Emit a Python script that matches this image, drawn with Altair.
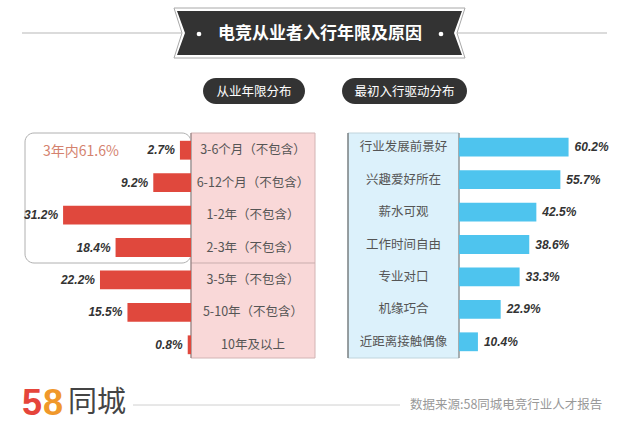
import altair as alt
import pandas as pd

# ---- data ----
years_cats = ["3-6个月（不包含）", "6-12个月（不包含）", "1-2年（不包含）", "2-3年（不包含）",
              "3-5年（不包含）", "5-10年（不包含）", "10年及以上"]
years_vals = [2.7, 9.2, 31.2, 18.4, 22.2, 15.5, 0.8]
reason_cats = ["行业发展前景好", "兴趣爱好所在", "薪水可观", "工作时间自由",
               "专业对口", "机缘巧合", "近距离接触偶像"]
reason_vals = [60.2, 55.7, 42.5, 38.6, 33.3, 22.9, 10.4]

title_text = "电竞从业者入行年限及原因"
left_subtitle = "从业年限分布"
right_subtitle = "最初入行驱动分布"
bracket_text = "3年内61.6%"
source_text = "数据来源:58同城电竞行业人才报告"
logo_digits = ["5", "8"]
logo_text = "同城"

FONT = "Noto Sans CJK SC"
NUMFONT = "Liberation Sans"

left_df = pd.DataFrame({"cat": years_cats, "val": years_vals,
                        "label": [f"{v}%" for v in years_vals]})
right_df = pd.DataFrame({"cat": reason_cats, "val": reason_vals,
                         "label": [f"{v}%" for v in reason_vals]})
one = pd.DataFrame({"k": [0]})


def rect(x1, x2, y1, y2, **kw):
    return alt.Chart(one).mark_rect(**kw).encode(
        x=alt.value(x1), x2=alt.value(x2), y=alt.value(y1), y2=alt.value(y2))


def rule(x1, x2, y1, y2, **kw):
    return alt.Chart(one).mark_rule(**kw).encode(
        x=alt.value(x1), x2=alt.value(x2), y=alt.value(y1), y2=alt.value(y2))


def text(x, y, s, **kw):
    kw.setdefault("font", FONT)
    return alt.Chart(one).mark_text(text=s, **kw).encode(x=alt.value(x), y=alt.value(y))


def banner_path(hh, notch):
    a = 1 - notch
    return (f"M-1,{-hh} L1,{-hh} L{a},0 L1,{hh} L-1,{hh} L{-a},0 Z")


# ---- decorations ----
decor = [
    rule(22, 607, 33, 33, color="#cfcfcf", strokeWidth=1.5),
    alt.Chart(one).mark_point(shape=banner_path(25 / 145.5, 8 / 145.5), size=291 ** 2,
                              filled=False, stroke="#a8a8a8", strokeWidth=1, fill="white",
                              fillOpacity=1, opacity=1).encode(x=alt.value(319.5), y=alt.value(33)),
    alt.Chart(one).mark_point(shape=banner_path(22 / 142.5, 8 / 142.5), size=285 ** 2,
                              filled=True, color="#333333", opacity=1).encode(
        x=alt.value(319.5), y=alt.value(33)),
    alt.Chart(one).mark_point(filled=True, color="white", size=22, opacity=1).encode(
        x=alt.value(199), y=alt.value(34)),
    alt.Chart(one).mark_point(filled=True, color="white", size=22, opacity=1).encode(
        x=alt.value(441), y=alt.value(34)),
    text(320, 34, title_text, fontSize=17, fontWeight="bold", color="white", baseline="middle"),
    # pills
    rect(203, 305, 78, 104, color="#333333", cornerRadius=13),
    text(254, 91.5, left_subtitle, fontSize=12.5, color="white", baseline="middle"),
    rect(342, 467, 78, 104, color="#333333", cornerRadius=13),
    text(404.5, 91.5, right_subtitle, fontSize=12.5, color="white", baseline="middle"),
    # panels
    rect(191, 315, 133, 358, color="#f9d8d8", stroke="#d2b4b4", strokeWidth=1),
    rule(191, 315, 263, 263, color="#c9adad", strokeWidth=1),
    rule(191, 191, 133, 358, color="#8a7a7a", strokeWidth=1),
    rect(348, 459, 133, 358, color="#dcf1fb", stroke="#c0d4dc", strokeWidth=1),
    rule(348, 348, 133, 358, color="#555555", strokeWidth=1),
    rule(459, 459, 133, 358, color="#777777", strokeWidth=1),
    # bracket
    rect(25, 191, 133, 263, fillOpacity=0, stroke="#b0b0b0", strokeWidth=1, cornerRadius=9),
    text(43, 152, bracket_text, fontSize=14, color="#d4826e", align="left", baseline="middle"),
    # footer
    text(22, 404, logo_digits[0], font=NUMFONT, fontSize=36, fontWeight="bold",
         color="#e5453b", align="left", baseline="middle"),
    text(43, 404, logo_digits[1], font=NUMFONT, fontSize=36, fontWeight="bold",
         color="#f0982a", align="left", baseline="middle"),
    text(68, 403, logo_text, fontSize=29, color="#444444", align="left", baseline="middle"),
    rule(133, 400, 405, 405, color="#d0d0d0", strokeWidth=1),
    text(410, 405, source_text, fontSize=12.5, color="#999999", align="left", baseline="middle"),
]

# ---- left chart ----
yL = alt.Y("cat:N", axis=None,
           scale=alt.Scale(domain=years_cats, range=[134, 361], paddingInner=0.42, paddingOuter=0.21))
xL = alt.X("val:Q", axis=None, scale=alt.Scale(domain=[0, 40], range=[191, 27]))
left = alt.layer(
    alt.Chart(left_df).mark_bar(color="#e0483d").encode(x=xL, y=yL),
    alt.Chart(left_df).mark_text(align="right", dx=-5, font=NUMFONT, fontSize=12,
                                 fontStyle="italic", fontWeight="bold", color="#333333",
                                 baseline="middle").encode(x=xL, y=yL, text="label:N"),
    alt.Chart(left_df).mark_text(font=FONT, fontSize=12.5, color="#555555",
                                 baseline="middle").encode(x=alt.value(253), y=yL, text="cat:N"),
)

# ---- right chart ----
yR = alt.Y("cat:N", axis=None,
           scale=alt.Scale(domain=reason_cats, range=[131, 358], paddingInner=0.42, paddingOuter=0.21))
xR = alt.X("val:Q", axis=None, scale=alt.Scale(domain=[0, 100], range=[459, 641]))
right = alt.layer(
    alt.Chart(right_df).mark_bar(color="#4ec4ee").encode(x=xR, y=yR),
    alt.Chart(right_df).mark_text(align="left", dx=6, font=NUMFONT, fontSize=12,
                                  fontStyle="italic", fontWeight="bold", color="#333333",
                                  baseline="middle").encode(x=xR, y=yR, text="label:N"),
    alt.Chart(right_df).mark_text(font=FONT, fontSize=12.5, color="#555555",
                                  baseline="middle").encode(x=alt.value(403.5), y=yR, text="cat:N"),
)

chart = alt.layer(*decor, left, right).resolve_scale(
    x="independent", y="independent"
).properties(
    width=640, height=443, autosize=alt.AutoSizeParams(type="none"), padding=0,
    background="white"
).configure_view(stroke=None)

chart.save("out.html", embed_options={"renderer": "svg", "actions": False})
